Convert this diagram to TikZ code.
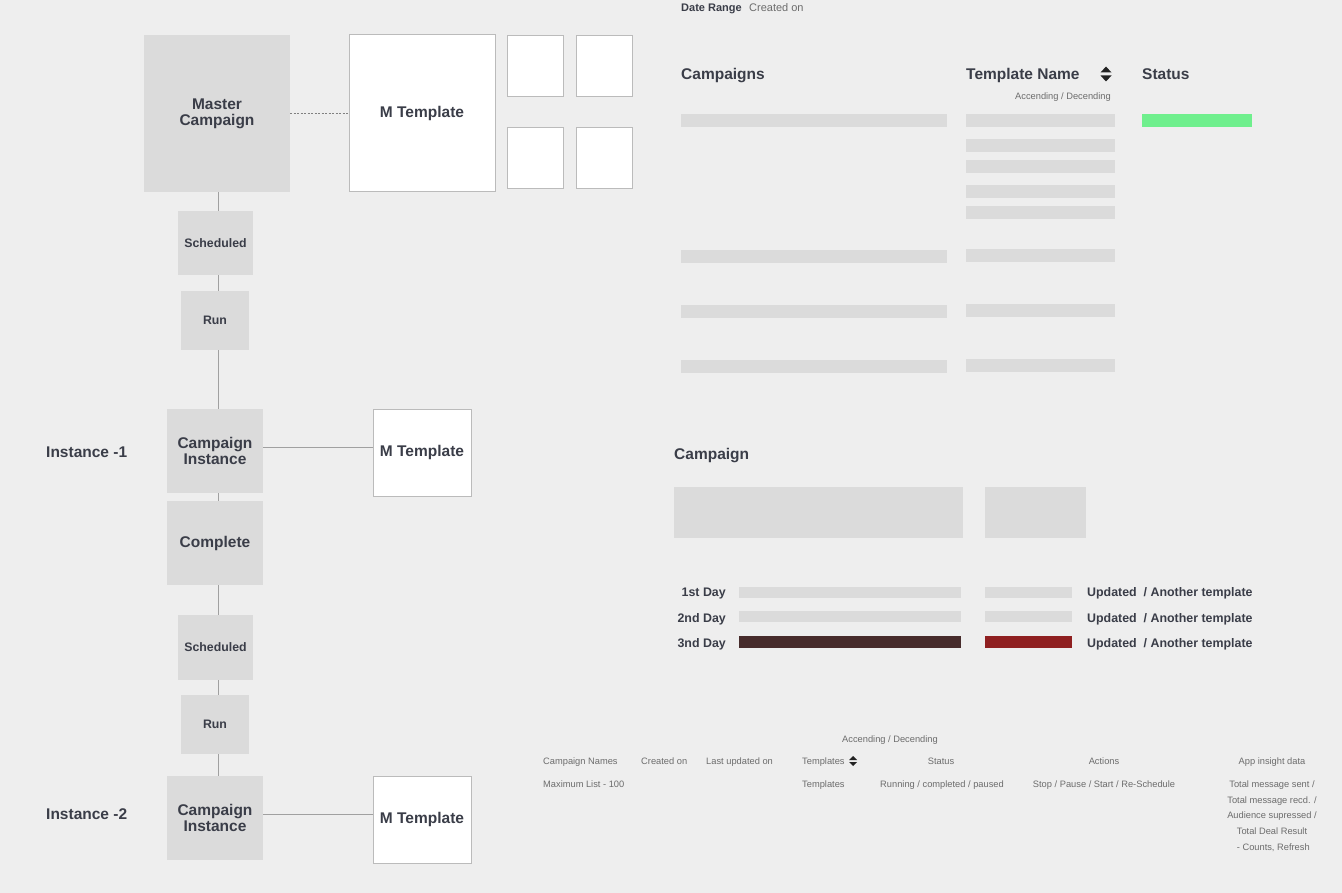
\documentclass[tikz,border=0pt]{standalone}
\usepackage{fontspec}
\setmainfont{Liberation Sans}
\usetikzlibrary{calc}
\definecolor{bg}{HTML}{EEEEEE}
\definecolor{boxgrey}{HTML}{DBDBDB}
\definecolor{lineg}{HTML}{A0A0A0}
\definecolor{bord}{HTML}{BBBBBB}
\definecolor{ink}{HTML}{3A3D48}
\definecolor{greytxt}{HTML}{6C6C6C}
\definecolor{okgreen}{HTML}{6FEF8D}
\definecolor{darkbar}{HTML}{472C2C}
\definecolor{redbar}{HTML}{8F1F20}
\definecolor{iconc}{HTML}{222222}
\tikzset{
  gbox/.style={rectangle, fill=boxgrey, inner sep=0pt, text=ink, align=center,
    font=\bfseries\fontsize{15.5}{16}\selectfont},
  sbox/.style={gbox, font=\bfseries\fontsize{12.3}{14}\selectfont},
  wbox/.style={rectangle, fill=white, draw=bord, line width=1pt, inner sep=0pt, text=ink,
    align=center, font=\bfseries\fontsize{15.5}{16}\selectfont},
  conn/.style={draw=lineg, line width=1pt},
  dashconn/.style={draw=gray, line width=0.8pt, dash pattern=on 2pt off 1.5pt},
  bar/.style={fill=boxgrey},
  lbl/.style={text=ink, inner sep=0pt, font=\bfseries\fontsize{15.5}{18}\selectfont},
  daylbl/.style={text=ink, inner sep=0pt, font=\bfseries\fontsize{12.4}{14}\selectfont},
  smallbold/.style={text=ink, inner sep=0pt, font=\bfseries\fontsize{11}{13}\selectfont},
  smallgrey/.style={text=greytxt, inner sep=0pt, font=\fontsize{11}{13}\selectfont},
  tiny/.style={text=greytxt, inner sep=0pt, font=\fontsize{9.3}{11}\selectfont},
}
\begin{document}
\begin{tikzpicture}[x=1pt,y=-1pt]
\fill[bg] (0,0) rectangle (1342,893);
\useasboundingbox (0,0) rectangle (1342,893);

% ---------- left flow ----------
\coordinate (spine) at (218,0);
\node[gbox, minimum width=146pt, minimum height=157pt] (master) at (217,113.5) {Master\\Campaign};
\node[wbox, minimum width=146pt, minimum height=157pt] (mt1) at (422,113.5) {M Template};
\node[wbox, minimum width=56pt, minimum height=61pt] (sq1) at (535,66.5) {};
\node[wbox, minimum width=56pt, minimum height=61pt] (sq2) at (604,66.5) {};
\node[wbox, minimum width=56pt, minimum height=61pt] (sq3) at (535,158.5) {};
\node[wbox, minimum width=56pt, minimum height=61pt] (sq4) at (604,158.5) {};

\node[sbox, minimum width=75pt, minimum height=64pt] (sched1) at (215.5,243) {Scheduled};
\node[sbox, minimum width=68pt, minimum height=59pt] (run1) at (215,320.5) {Run};
\node[gbox, minimum width=96pt, minimum height=84pt] (ci1) at (215,451) {Campaign\\Instance};
\node[wbox, minimum width=98pt, minimum height=87pt] (mt2) at (422,452.5) {M Template};
\node[gbox, minimum width=96pt, minimum height=84pt] (complete) at (215,543) {Complete};
\node[sbox, minimum width=75pt, minimum height=65pt] (sched2) at (215.5,647.5) {Scheduled};
\node[sbox, minimum width=68pt, minimum height=59pt] (run2) at (215,724.5) {Run};
\node[gbox, minimum width=96pt, minimum height=84pt] (ci2) at (215,818) {Campaign\\Instance};
\node[wbox, minimum width=98pt, minimum height=87pt] (mt3) at (422,819.5) {M Template};

\node[lbl, anchor=base west] (inst1) at (46,457.5) {Instance -1};
\node[lbl, anchor=base west] (inst2) at (46,819.5) {Instance -2};

\draw[dashconn] (master.east) -- (mt1.west);
\draw[conn] (master.south -| spine) -- (sched1.north -| spine);
\draw[conn] (sched1.south -| spine) -- (run1.north -| spine);
\draw[conn] (run1.south -| spine) -- (ci1.north -| spine);
\draw[conn] (ci1.south -| spine) -- (complete.north -| spine);
\draw[conn] (complete.south -| spine) -- (sched2.north -| spine);
\draw[conn] (sched2.south -| spine) -- (run2.north -| spine);
\draw[conn] (run2.south -| spine) -- (ci2.north -| spine);
\draw[conn] ([yshift=4pt]ci1.east) -- ([yshift=4pt]ci1.east -| mt2.west);
\draw[conn] ([yshift=4pt]ci2.east) -- ([yshift=4pt]ci2.east -| mt3.west);

% ---------- top right list ----------
\node[smallbold, anchor=base west] (dr) at (681,12) {Date Range};
\node[smallgrey, anchor=base west] (dco) at (749,12) {Created on};
\node[lbl, anchor=base west] (hcamp) at (681,79.5) {Campaigns};
\node[lbl, anchor=base west] (htn) at (966,79.5) {Template Name};
\node[lbl, anchor=base west] (hst) at (1142,79.5) {Status};
\node[tiny, anchor=base east] (asc1) at (1111,99.2) {Accending / Decending};
\fill[iconc] (1100.5,72.5) -- (1106,66.5) -- (1111.5,72.5) -- cycle;
\fill[iconc] (1100.5,75.5) -- (1106,81.5) -- (1111.5,75.5) -- cycle;

\fill[bar] (681,114) rectangle (947,127);
\fill[bar] (966,114) rectangle (1115,127);
\fill[okgreen] (1142,114) rectangle (1252,127);
\fill[bar] (966,139) rectangle (1115,152);
\fill[bar] (966,160) rectangle (1115,173);
\fill[bar] (966,185) rectangle (1115,198);
\fill[bar] (966,206) rectangle (1115,219);
\fill[bar] (681,250) rectangle (947,263);
\fill[bar] (966,249) rectangle (1115,262);
\fill[bar] (681,305) rectangle (947,318);
\fill[bar] (966,304) rectangle (1115,317);
\fill[bar] (681,360) rectangle (947,373);
\fill[bar] (966,359) rectangle (1115,372);

% ---------- campaign detail ----------
\node[lbl, anchor=base west] (hc2) at (674,459.5) {Campaign};
\fill[bar] (674,487) rectangle (963,538);
\fill[bar] (985,487) rectangle (1086,538);

\node[daylbl, anchor=base east] (d1) at (726,596.5) {1st Day};
\node[daylbl, anchor=base east] (d2) at (726,622.5) {2nd Day};
\node[daylbl, anchor=base east] (d3) at (726,647.5) {3nd Day};
\fill[bar] (739,587) rectangle (961,598);
\fill[bar] (985,587) rectangle (1072,598);
\fill[bar] (739,611) rectangle (961,622);
\fill[bar] (985,611) rectangle (1072,622);
\fill[darkbar] (739,636) rectangle (961,648);
\fill[redbar] (985,636) rectangle (1072,648);
\node[daylbl, anchor=base west] (u1) at (1087,596.5) {Updated~ / Another template};
\node[daylbl, anchor=base west] (u2) at (1087,622.5) {Updated~ / Another template};
\node[daylbl, anchor=base west] (u3) at (1087,647.5) {Updated~ / Another template};

% ---------- bottom table ----------
\node[tiny, anchor=base] (asc2) at (890,742) {Accending / Decending};
\node[tiny, anchor=base west] (t1) at (543,764) {Campaign Names};
\node[tiny, anchor=base west] (t2) at (641,764) {Created on};
\node[tiny, anchor=base west] (t3) at (706,764) {Last updated on};
\node[tiny, anchor=base west] (t4) at (802,764) {Templates};
\fill[iconc] (849,760) -- (853,756) -- (857,760) -- cycle;
\fill[iconc] (849,762) -- (853,766) -- (857,762) -- cycle;
\node[tiny, anchor=base] (t5) at (941,764) {Status};
\node[tiny, anchor=base] (t6) at (1104,764) {Actions};
\node[tiny, anchor=base] (t7) at (1272,764) {App insight data};

\node[tiny, anchor=base west] (r1) at (543,787) {Maximum List - 100};
\node[tiny, anchor=base west] (r4) at (802,787) {Templates};
\node[tiny, anchor=base] (r5) at (942,787) {Running / completed / paused};
\node[tiny, anchor=base] (r6) at (1104,787) {Stop / Pause / Start / Re-Schedule};
\node[tiny, anchor=base] (ai1) at (1272,787) {Total message sent /};
\node[tiny, anchor=base] (ai2) at (1272,803) {Total message recd. /};
\node[tiny, anchor=base] (ai3) at (1272,818.5) {Audience supressed /};
\node[tiny, anchor=base] (ai4) at (1272,834) {Total Deal Result};
\node[tiny, anchor=base] (ai5) at (1272,850) {~- Counts, Refresh};
\end{tikzpicture}
\end{document}
